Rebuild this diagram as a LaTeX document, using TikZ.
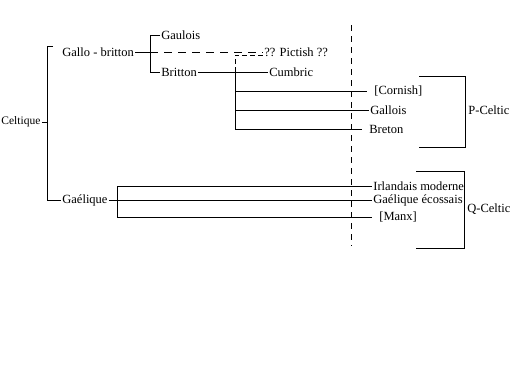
\documentclass[tikz,border=0pt]{standalone}
\usepackage{fontspec}
\setmainfont{Liberation Serif}
\begin{document}
\begin{tikzpicture}[x=1pt,y=-1pt,line width=.8pt,
  lang/.style={anchor=west,inner sep=1pt,font=\fontsize{12.5}{14}\selectfont},
  gap/.style={shorten >=6pt}]
\useasboundingbox (0,0) rectangle (512,384);
% names
\node[lang,font=\fontsize{11.5}{14}\selectfont] (celt) at (0,122) {Celtique};
\node[lang] (gallo) at (61,52) {Gallo - britton};
\node[lang] (gaul) at (160,35) {Gaulois};
\node[lang] (brit) at (160,72) {Britton};
\node[lang] (pict) at (263,52) {?? Pictish ??};
\node[lang] (cumb) at (268,72) {Cumbric};
\node[lang] (corn) at (373,91) {[Cornish]};
\node[lang] (gallois) at (369,110) {Gallois};
\node[lang] (bret) at (368,129) {Breton};
\node[lang] (pcel) at (467,110) {P-Celtic};
\node[lang] (gael) at (61,200) {Gaélique};
\node[lang] (irl) at (372,186) {Irlandais moderne};
\node[lang] (ecos) at (372,200) {Gaélique écossais};
\node[lang] (manx) at (378,217) {[Manx]};
\node[lang] (qcel) at (466,209) {Q-Celtic};
% Celtique
\draw (celt.east) -- (47,122);
\draw (53,46) -- (47,46) -- (47,200) -- (gael.west);
% Gallo - britton
\coordinate (gb) at (150,52);
\draw (gallo.east) -- (gb);
\draw[dash pattern=on 8pt off 6pt] (gb) -- (pict.west);
\draw (gaul.west) -| (gb |- brit.west) -- (brit.west);
\draw (brit.east) -- (cumb.west);
% Britton
\coordinate (bs) at (235,72);
\draw[dash pattern=on 5pt off 3pt] (bs) |- ([yshift=-3pt]pict.west);
\draw[gap] (bs) |- (bret.west);
\draw[gap] (bs |- corn.west) -- (corn.west);
\draw (bs |- gallois.west) -- (gallois.west);
% Gaelique
\coordinate (gs) at (117,200);
\draw (gael.east) -- (ecos.west);
\draw (irl.west) -| (gs |- manx.west);
\draw[gap] (gs |- manx.west) -- (manx.west);
% divide
\draw[dash pattern=on 6pt off 5pt] (351,25) -- (351,246);
% groups
\draw (419,76) -| (465,147) -- (419,147);
\draw (416,171) -| (464,248) -- (416,248);
\end{tikzpicture}
\end{document}
